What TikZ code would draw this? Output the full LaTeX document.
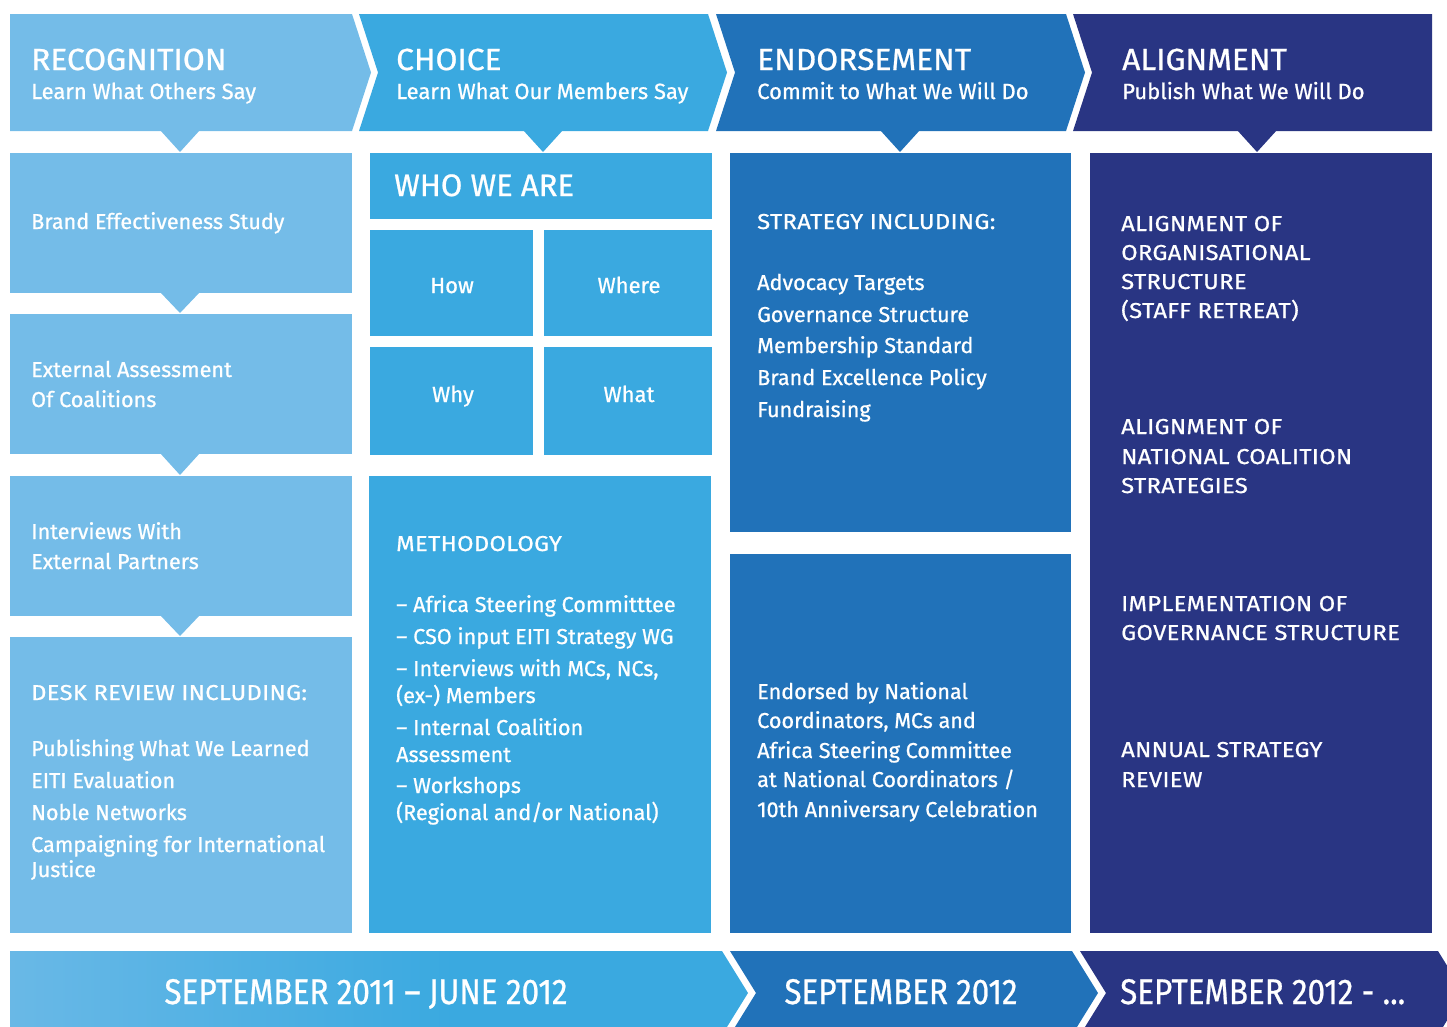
\documentclass[tikz,border=0pt]{standalone}
\usepackage{fontspec}
\setmainfont{Fira Sans}[FakeBold=0.8]
\newfontfamily\capsfont{Fira Sans}[FakeBold=0.8, FakeStretch=1.1, LetterSpace=1.5]
\newfontfamily\headfont{Fira Sans}[FakeBold=0.8, FakeStretch=1.04]
\usetikzlibrary{calc}

\definecolor{recog}{RGB}{116,188,232}
\definecolor{choice}{RGB}{58,169,224}
\definecolor{endorse}{RGB}{33,114,185}
\definecolor{alignc}{RGB}{41,53,131}

% light-to-mid blue ramp of the first timeline segment
\pgfdeclarehorizontalshading{timebar}{100bp}{color(0bp)=(recog); color(18bp)=(recog); color(55bp)=(choice); color(100bp)=(choice)}

\tikzset{
  ttl/.style={text=white, inner sep=0pt, anchor=base west, font=\headfont\fontsize{30.5}{36}\selectfont},
  sub/.style={text=white, inner sep=0pt, anchor=base west, font=\fontsize{22}{26}\selectfont},
  body/.style={text=white, inner sep=0pt, anchor=base west, font=\fontsize{21.6}{25}\selectfont},
  caps/.style={text=white, inner sep=0pt, anchor=base west, font=\capsfont\fontsize{21.6}{25}\selectfont},
  big/.style={text=white, inner sep=0pt, anchor=base west, font=\fontsize{31}{37}\selectfont},
  cell/.style={text=white, inner sep=0pt, anchor=base, font=\fontsize{22}{26}\selectfont},
  date/.style={text=white, inner sep=0pt, anchor=base},
}

\begin{document}
\begin{tikzpicture}[x=1pt, y=-1pt]
\useasboundingbox (0,0) rectangle (1447,1026);
\clip (0,0) rectangle (1447,1026);

% ---------- phase chevrons ----------
\fill[recog]   (10,14) -- (352,14) -- (371,72.5) -- (352,131) -- (10,131) -- cycle;
\fill[choice]  (359,14) -- (708,14) -- (727,72.5) -- (708,131) -- (359,131) -- (378,72.5) -- cycle;
\fill[endorse] (716,14) -- (1066,14) -- (1085,72.5) -- (1066,131) -- (716,131) -- (735,72.5) -- cycle;
\fill[alignc]  (1073,14) -- (1432,14) -- (1432,131) -- (1073,131) -- (1092,72.5) -- cycle;

% pointers under the chevrons
\fill[recog]   (160,130) -- (200,130) -- (180,152) -- cycle;
\fill[choice]  (523,130) -- (563,130) -- (543,152) -- cycle;
\fill[endorse] (880,130) -- (920,130) -- (900,152) -- cycle;
\fill[alignc]  (1237,130) -- (1277,130) -- (1257,152) -- cycle;

\node[ttl] (t1) at (31,70) {RECOGNITION};
\node[sub] (s1) at (31,99) {Learn What Others Say};
\node[ttl] (t2) at (396,70) {CHOICE};
\node[sub] (s2) at (396,99) {Learn What Our Members Say};
\node[ttl] (t3) at (757,70) {ENDORSEMENT};
\node[sub] (s3) at (757,99) {Commit to What We Will Do};
\node[ttl] (t4) at (1122,70) {ALIGNMENT};
\node[sub] (s4) at (1122,99) {Publish What We Will Do};

% ---------- column 1: recognition ----------
\fill[recog] (10,153) rectangle (352,293);
\fill[recog] (160,292) -- (200,292) -- (180,313) -- cycle;
\fill[recog] (10,314) rectangle (352,454);
\fill[recog] (160,453) -- (200,453) -- (180,475) -- cycle;
\fill[recog] (10,476) rectangle (352,616);
\fill[recog] (160,615) -- (200,615) -- (180,636) -- cycle;
\fill[recog] (10,637) rectangle (352,933);

\node[body] (bes) at (31,229) {Brand Effectiveness Study};
\foreach \y/\t [count=\i] in {377/External Assessment, 407/Of Coalitions}
  \node[body, name=ext\i] at (31,\y) {\t};
\foreach \y/\t [count=\i] in {539/Interviews With, 569/External Partners}
  \node[body, name=int\i] at (31,\y) {\t};
\node[caps] (desk) at (31,700) {DESK REVIEW INCLUDING:};
\foreach \y/\t [count=\i] in {756/Publishing What We Learned,
    788/EITI Evaluation, 820/Noble Networks, 852/Campaigning for International, 877/Justice}
  \node[body, name=desk\i] at (31,\y) {\t};

% ---------- column 2: choice ----------
\fill[choice] (370,153) rectangle (712,219);
\fill[choice] (370,230) rectangle (533,336);
\fill[choice] (544,230) rectangle (712,336);
\fill[choice] (370,347) rectangle (533,455);
\fill[choice] (544,347) rectangle (712,455);
\fill[choice] (369,476) rectangle (711,933);

\node[big] (who) at (394,196) {WHO WE ARE};
\node[cell] (how) at (452,293) {How};
\node[cell] (where) at (629,293) {Where};
\node[cell] (why) at (453,402) {Why};
\node[cell] (what) at (629,402) {What};

\node[caps] (meth) at (396,551) {METHODOLOGY};
\foreach \y/\t [count=\i] in {612/{– Africa Steering Committtee},
    644/{– CSO input EITI Strategy WG}, {676/{– Interviews with MCs, NCs,}},
    703/{(ex-) Members}, 735/{– Internal Coalition}, 762/Assessment,
    793/{– Workshops}, 820/{(Regional and/or National)}}
  \node[body, name=meth\i] at (396,\y) {\t};

% ---------- column 3: endorsement ----------
\fill[endorse] (730,153) rectangle (1071,532);
\fill[endorse] (730,554) rectangle (1071,933);

\node[caps] (strat) at (757,229) {STRATEGY INCLUDING:};
\foreach \y/\t [count=\i] in {290/Advocacy Targets,
    322/Governance Structure, 353/Membership Standard, 385/Brand Excellence Policy,
    417/Fundraising}
  \node[body, name=strat\i] at (757,\y) {\t};
\foreach \y/\t [count=\i] in {699/Endorsed by National, {728/{Coordinators, MCs and}},
    758/Africa Steering Committee, 787/{at National Coordinators /},
    817/10th Anniversary Celebration}
  \node[body, name=endo\i] at (757,\y) {\t};

% ---------- column 4: alignment ----------
\fill[alignc] (1090,153) rectangle (1432,933);

\foreach \y/\t [count=\i] in {231/ALIGNMENT OF, 260/ORGANISATIONAL, 289/STRUCTURE,
    318/(STAFF RETREAT), 434/ALIGNMENT OF, 464/NATIONAL COALITION, 493/STRATEGIES,
    611/IMPLEMENTATION OF, 640/GOVERNANCE STRUCTURE, 757/ANNUAL STRATEGY, 787/REVIEW}
  \node[caps, name=al\i] at (1121,\y) {\t};

% ---------- timeline ----------
\shade[shading=timebar] (10,951) -- (722,951) -- (748,993) -- (722,1035) -- (10,1035) -- cycle;
\fill[endorse] (730,951) -- (1072,951) -- (1098,993) -- (1072,1035) -- (730,1035) -- (756,993) -- cycle;
\fill[alignc] (1080,951) -- (1438,951) -- (1464,993) -- (1438,1035) -- (1080,1035) -- (1106,993) -- cycle;

\node[date] (d1) at (366,1004) {\resizebox{403pt}{25pt}{SEPTEMBER 2011 – JUNE 2012}};
\node[date] (d2) at (901,1004) {\resizebox{233pt}{25pt}{SEPTEMBER 2012}};
\node[date, anchor=base west] (d3) at (1120,1004) {\resizebox{285pt}{25pt}{SEPTEMBER 2012 - ...}};
\end{tikzpicture}
\end{document}
